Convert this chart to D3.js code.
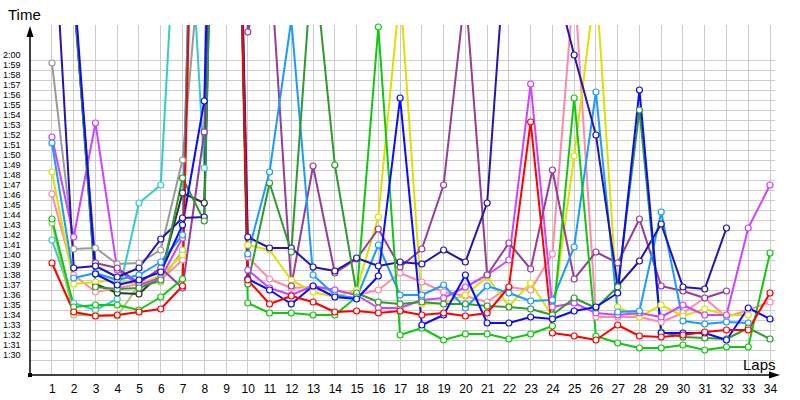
<!DOCTYPE html>
<html><head><meta charset="utf-8">
<script src="https://cdn.jsdelivr.net/npm/d3@7"></script>
<style>
body{margin:0;background:#fff;}
svg{display:block;}
text{font-family:"Liberation Sans",Arial,sans-serif;fill:#000;}
</style></head>
<body><svg id="c" width="800" height="400"></svg>
<script>
// ---- data (lap times in seconds; values > 2:03 run off the top of the chart) ----
const laps = [1,2,3,4,5,6,7,8,9,10,11,12,13,14,15,16,17,18,19,20,21,22,23,24,25,26,27,28,29,30,31,32,33,34];
const yTicks = [90,91,92,93,94,95,96,97,98,99,100,101,102,103,104,105,106,107,108,109,110,111,112,113,114,115,116,117,118,119,120];

const gray    = [119.7,101.1,101.2,99.6,99.7,101.0,110,135,200,null,null,null,null,null,null,null,null,null,null,null,null,null,null,null,null,null,null,null,null,null,null,null,null,null];
const cyan    = [102.0,95.7,95.0,96.1,105.7,107.5,147,109.2,200,null,null,null,null,null,null,null,null,null,null,null,null,null,null,null,null,null,null,null,null,null,null,null,null,null];
const olive   = [103.7,94.5,94.5,94.4,97.5,97.8,101,190,200,null,null,null,null,null,null,null,null,null,null,null,null,null,null,null,null,null,null,null,null,null,null,null,null,null];
const black   = [140,127,97.6,96.7,96.6,98.6,106.7,105.7,200,null,null,null,null,null,null,null,null,null,null,null,null,null,null,null,null,null,null,null,null,null,null,null,null,null];
const pink    = [106.6,98.5,96.8,97.2,97.6,98.0,100.0,190,200,100.3,98.1,97.2,97.3,97.0,96.5,97.0,98.7,97.8,96.8,96.4,95.8,97.3,97.0,100.6,128,94.3,94.3,94.3,93.8,94.7,96.2,94.3,95.0,95.8];
const yellow  = [108.8,97.6,97.8,98.0,97.5,98.5,100.5,190,200,101.5,101.0,98.0,96.8,96.3,97.0,104.3,127,95.6,95.7,96.5,98.3,95.4,97.7,94.4,110.4,128,95.3,94.3,95.5,94.4,95.1,94.5,94.5,null];
const magenta = [112.3,102.3,113.7,99.0,97.5,98.2,102.2,190,200,99.0,97.2,96.5,97.4,97.0,96.5,95.2,95.2,96.0,96.2,97.3,98.5,100.0,117.6,95.3,95.7,94.7,94.5,94.7,94.3,95.5,94.5,94.5,103.2,107.5];
const purple  = [140,126,99.7,99.2,97.7,99.2,97.2,112.8,200,122.8,131,97.4,109.4,98.7,100.1,103.1,99.3,101.1,107.5,127,98.5,101.7,99.1,109.0,98.1,100.8,99.7,104.1,97.4,96.9,96.2,96.9,null,null];
const lightblue=[111.7,98.2,98.7,98.0,98.5,99.8,102.5,190,200,100.6,108.8,124,98.5,96.5,96.2,101.5,96.5,96.5,97.5,95.2,97.4,96.7,95.9,96.0,101.3,116.8,94.8,94.9,104.8,93.9,93.6,93.8,93.7,null];
const navy    = [137,99.2,99.4,98.3,99.2,102.1,104.2,104.3,200,102.3,101.2,101.2,99.3,98.9,100.2,99.4,99.8,99.6,101.0,99.8,105.7,136,140,129,120.5,112.5,97.4,99.9,103.6,97.3,97.1,103.2,null,null];
const darkgreen=[140,127,97.3,97.1,97.2,98.0,108.2,103.9,200,97.6,107.7,100.8,131,109.5,96.7,95.8,95.6,95.8,95.6,95.6,95.4,95.3,95.1,94.5,96.2,95.2,97.3,115.0,92.8,92.3,92.2,92.1,93.2,92.1];
const green   = [104.1,95.3,95.5,95.5,95.0,96.3,98.1,190,200,95.7,94.7,94.7,94.5,94.5,96.3,123.3,92.5,93.2,92.0,92.6,92.6,92.1,92.6,93.4,116.2,92.4,91.7,91.2,91.2,91.5,91.0,91.3,91.3,100.7];
const blue    = [140,128,98.6,97.5,98.0,98.8,103.5,115.9,200,98.1,97.0,95.6,97.4,96.3,96.1,98.4,116.2,93.5,94.5,98.5,93.7,93.7,94.3,94.1,94.9,95.3,96.7,117.0,92.7,92.7,92.7,92.0,95.2,94.1];
const red     = [99.7,94.8,94.4,94.5,94.8,95.1,97.4,190,200,98.0,95.6,96.4,95.8,94.8,94.9,94.7,94.9,94.5,94.7,94.4,94.7,97.3,113.8,92.7,92.4,92.0,93.5,92.4,92.3,92.5,92.8,93.0,93.0,96.7];

const seriesNames  = ["gray","cyan","olive","black","pink","yellow","magenta","purple","lightblue","navy","darkgreen","green","blue","red"];
const seriesValues = [gray,cyan,olive,black,pink,yellow,magenta,purple,lightblue,navy,darkgreen,green,blue,red];
const seriesColors = ["#9a9a9a","#33cccc","#a4c866","#333333","#ff8aa8","#e0e000","#cc44ff","#963c9a","#1a9cff","#2414b0","#2f9a2f","#10c810","#0a0aff","#ff0000"];

// ---- layout ----
const svg = d3.select("#c");
const x = d3.scaleLinear().domain([0,34]).range([30.2,770]);
const y = d3.scaleLinear().domain([90,120]).range([360,60]);
const fmt = s => Math.floor(s/60) + ":" + String(Math.round(s%60)).padStart(2,"0");

const defs = svg.append("defs");
defs.append("clipPath").attr("id","clipL").append("rect").attr("x",30).attr("y",25).attr("width",760).attr("height",350);
defs.append("clipPath").attr("id","clipP").append("rect").attr("x",30).attr("y",21).attr("width",760).attr("height",354);

// grid
const grid = svg.append("g");
grid.selectAll("line.v").data(laps).join("line")
  .attr("x1",d=>x(d)).attr("x2",d=>x(d)).attr("y1",25).attr("y2",375)
  .attr("stroke","#cccccc").attr("stroke-width",1).attr("shape-rendering","crispEdges");
grid.selectAll("line.h").data(yTicks).join("line")
  .attr("x1",30).attr("x2",775).attr("y1",d=>y(d)).attr("y2",d=>y(d))
  .attr("stroke","#cccccc").attr("stroke-width",1).attr("shape-rendering","crispEdges");

// lines
const line = d3.line().defined(d=>d.v!=null).x(d=>x(d.lap)).y(d=>y(d.v));
const series = seriesNames.map((n,i)=>({name:n,color:seriesColors[i],pts:laps.map((l,j)=>({lap:l,v:seriesValues[i][j]}))}));
const gl = svg.append("g").attr("clip-path","url(#clipL)");
gl.selectAll("path").data(series).join("path")
  .attr("d",s=>line(s.pts)).attr("fill","none").attr("stroke",s=>s.color)
  .attr("stroke-width",2).attr("stroke-linejoin","round");
const gp = svg.append("g").attr("clip-path","url(#clipP)");
series.forEach(s=>{
  gp.append("g").selectAll("circle").data(s.pts.filter(p=>p.v!=null && p.v<124)).join("circle")
    .attr("cx",p=>x(p.lap)).attr("cy",p=>y(p.v)).attr("r",3)
    .attr("fill","#fff").attr("stroke",s.color).attr("stroke-width",1.2);
});

// axes
const ya = svg.append("g").attr("transform","translate(30,0)")
  .call(d3.axisLeft(y).tickValues(yTicks).tickFormat(fmt).tickSize(0));
ya.select(".domain").remove();
ya.selectAll("text").attr("x",-27).attr("y",-5).attr("text-anchor","start")
  .style("font-size","9px").style("font-family","'Liberation Sans',Arial,sans-serif").attr("fill","#000");

const xa = svg.append("g").attr("transform","translate(0,375)")
  .call(d3.axisBottom(x).tickValues(laps).tickFormat(d3.format("d")).tickSize(0));
xa.select(".domain").remove();
xa.selectAll("text").attr("y",9).style("font-size","12px")
  .style("font-family","'Liberation Sans',Arial,sans-serif").attr("fill","#000");

// axis lines and arrows
svg.append("line").attr("x1",30).attr("x2",30).attr("y1",30).attr("y2",375).attr("stroke","#000").attr("stroke-width",1.5);
svg.append("line").attr("x1",30).attr("x2",772).attr("y1",375).attr("y2",375).attr("stroke","#000").attr("stroke-width",1.5);
svg.append("path").attr("d","M30,26 L26.5,37 L33.5,37 Z").attr("fill","#000");
svg.append("path").attr("d","M780,375 L769,371.5 L769,378.5 Z").attr("fill","#000");
svg.append("rect").attr("x",28).attr("y",373).attr("width",4).attr("height",4).attr("fill","#000");

svg.append("text").attr("x",8).attr("y",20).style("font-size","15px").text("Time");
svg.append("text").attr("x",743).attr("y",370).style("font-size","15px").text("Laps");
</script></body></html>
